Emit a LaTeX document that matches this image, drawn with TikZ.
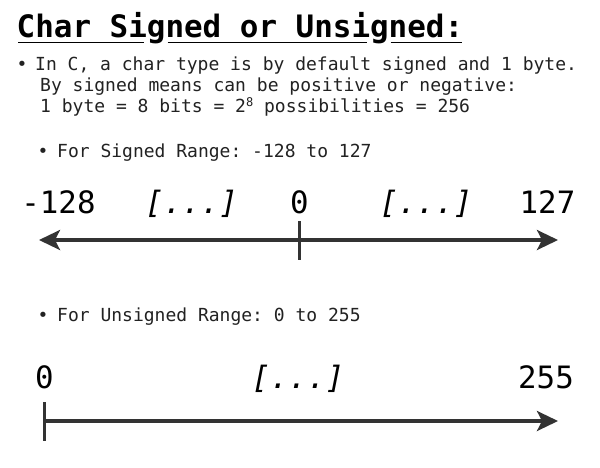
\documentclass[tikz,border=0pt]{standalone}
\usepackage{fontspec}
\setmonofont{DejaVu Sans Mono}
\usetikzlibrary{arrows.meta}
\definecolor{axiscol}{HTML}{333333}
\definecolor{bodycol}{HTML}{222222}
\begin{document}
\begin{tikzpicture}[x=1pt,y=-1pt,
  titletext/.style={font=\ttfamily\bfseries\fontsize{30.9}{36}\selectfont, text=black, inner sep=0, anchor=base west},
  body/.style={font=\ttfamily\fontsize{18}{21}\selectfont, text=bodycol, inner sep=0, anchor=base west},
  bullet/.style={font=\ttfamily\fontsize{18}{21}\selectfont, text=bodycol, inner sep=0, anchor=base},
  big/.style={font=\ttfamily\fontsize{30.8}{36}\selectfont, text=black, inner sep=0, anchor=base},
  bigit/.style={big, font=\ttfamily\itshape\fontsize{30.8}{36}\selectfont},
  uline/.style={draw=black, line width=1.8pt},
  axisline/.style={draw=axiscol, line width=3.3pt},
  tickline/.style={draw=axiscol, line width=3pt},
  tipstyle/.tip={Stealth[length=21pt, width=20pt, inset=5pt]}
]
\useasboundingbox[fill=white] (0,0) rectangle (600,467);

% title
\node[titletext] (title) at (16.5,37) {Char Signed or Unsigned:};
\coordinate (u0) at (18,42.5);
\coordinate (u1) at (143.5,42.5);
\coordinate (u2) at (167.5,42.5);
\coordinate (u3) at (366.5,42.5);
\coordinate (u4) at (390.5,42.5);
\coordinate (u5) at (462,42.5);
\draw[uline] (u0) -- (u1);
\draw[uline] (u2) -- (u3);
\draw[uline] (u4) -- (u5);

% intro text
\node[bullet] (b1) at (22,70) {•};
\node[body] (l1) at (35,70) {In C, a char type is by default signed and 1 byte.};
\node[body] (l2) at (40,91) {By signed means can be positive or negative:};
\node[body] (l3) at (40,112) {1 byte = 8 bits = 2\raisebox{0.33em}{\fontsize{12}{12}\selectfont 8} possibilities = 256};

% signed range
\node[bullet] (b2) at (43,157) {•};
\node[body] (s1) at (57,157) {For Signed Range: -128 to 127};
\node[big] (n1) at (58.5,213) {-128};
\node[bigit] (d1) at (191.5,213) {[...]};
\node[big] (z1) at (299.5,213) {0};
\node[bigit] (d2) at (426,213) {[...]};
\node[big] (n2) at (547.5,213) {127};
\coordinate (aL) at (39,240);
\coordinate (aR) at (558,240);
\coordinate (t1a) at (299.5,221);
\coordinate (t1b) at (299.5,260);
\draw[axisline, tipstyle-tipstyle] (aL) -- (aR);
\draw[tickline] (t1a) -- (t1b);

% unsigned range
\node[bullet] (b3) at (43,321) {•};
\node[body] (s2) at (57,321) {For Unsigned Range: 0 to 255};
\node[big] (z2) at (44.5,388) {0};
\node[bigit] (d3) at (298,388) {[...]};
\node[big] (n3) at (546,388) {255};
\coordinate (bL) at (44,421);
\coordinate (bR) at (558,421);
\coordinate (t2a) at (44,402);
\coordinate (t2b) at (44,441);
\draw[axisline, -tipstyle] (bL) -- (bR);
\draw[tickline] (t2a) -- (t2b);
\end{tikzpicture}
\end{document}
